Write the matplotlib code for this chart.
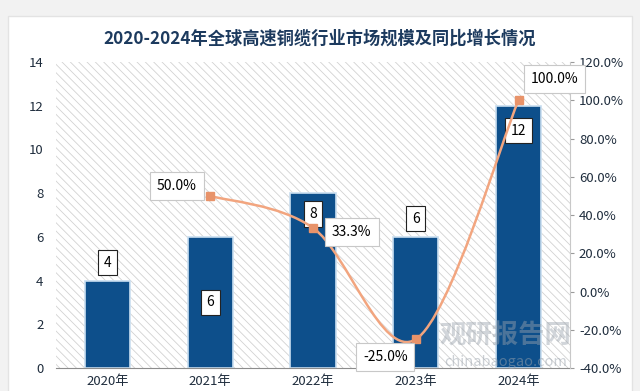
import matplotlib.pyplot as plt
import numpy as np
from matplotlib.path import Path
from matplotlib.patches import PathPatch, Rectangle

plt.rcParams['font.family'] = ['Noto Sans CJK SC', 'DejaVu Sans']
plt.rcParams['hatch.linewidth'] = 0.6

# data
years = ['2020年', '2021年', '2022年', '2023年', '2024年']
market_size = [4, 6, 8, 6, 12]
growth = [None, 0.50, 0.333, -0.25, 1.00]
growth_labels = ['', '50.0%', '33.3%', '-25.0%', '100.0%']

bar_color = '#0d4f8b'
line_color = '#f2a57f'
text_color = '#1f2d3d'


def smooth_path(xs, ys, t=0.5):
    # excel style smoothed line: catmull-rom turned into cubic bezier segments
    verts = [(xs[0], ys[0])]
    codes = [Path.MOVETO]
    n = len(xs)
    for i in range(n - 1):
        x0, y0 = (xs[i - 1], ys[i - 1]) if i > 0 else (xs[i], ys[i])
        x1, y1 = xs[i], ys[i]
        x2, y2 = xs[i + 1], ys[i + 1]
        x3, y3 = (xs[i + 2], ys[i + 2]) if i + 2 < n else (x2, y2)
        c1 = (x1 + (x2 - x0) * t / 3, y1 + (y2 - y0) * t / 3)
        c2 = (x2 - (x3 - x1) * t / 3, y2 - (y3 - y1) * t / 3)
        verts += [c1, c2, (x2, y2)]
        codes += [Path.CURVE4] * 3
    return Path(verts, codes)


fig = plt.figure(figsize=(6.4, 3.91), dpi=100)
fig.patch.set_facecolor('#f2f2f2')
fig.patches.append(Rectangle((0.012, -0.02), 0.975, 0.98, transform=fig.transFigure,
                             facecolor='white', edgecolor='#e3e3e3', lw=1, zorder=-5))

ax = fig.add_axes([0.0875, 0.0588, 0.803, 0.7826])
x = np.arange(len(years))

ax.patch.set_facecolor('white')
ax.patch.set_hatch('\\\\\\\\')
ax.patch.set_edgecolor('#d2d2d2')

bars = ax.bar(x, market_size, width=0.44, color=bar_color, edgecolor='#c9def0', linewidth=1.2, zorder=2)
ax.set_xlim(-0.5, len(years) - 0.5)
ax.set_ylim(0, 14)
ax.set_yticks(range(0, 15, 2))
ax.set_xticks(x)
ax.set_xticklabels(years)
ax.tick_params(axis='both', length=0, labelsize=9.5, colors=text_color)
ax.tick_params(axis='x', pad=5)
ax.tick_params(axis='y', pad=9)
for s in ['top', 'left', 'right']:
    ax.spines[s].set_visible(False)
ax.spines['bottom'].set_color('#8c8c8c')

# bar value labels (offset in points from the bar top)
bar_offsets = [13, -47, -15, 13, -18]
for xi, v, off in zip(x, market_size, bar_offsets):
    ax.annotate(str(v), (xi, v), xytext=(0, off), textcoords='offset points',
                ha='center', va='center', fontsize=10, color='black', zorder=5,
                bbox=dict(boxstyle='square,pad=0.4', fc='white', ec='#222222', lw=0.8))

ax2 = ax.twinx()
ax2.set_ylim(-0.4, 1.2)
ax2.set_yticks(np.arange(-0.4, 1.21, 0.2))
ax2.set_yticklabels([f'{v * 100:.1f}%' for v in np.arange(-0.4, 1.21, 0.2)])
ax2.tick_params(axis='y', length=3, labelsize=9.5, colors=text_color, direction='out')
ax2.tick_params(axis='y', color='#9a9a9a')
for s in ['top', 'left', 'bottom']:
    ax2.spines[s].set_visible(False)
ax2.spines['right'].set_color('#c8c8c8')

gx = [xi for xi, g in zip(x, growth) if g is not None]
gy = [g for g in growth if g is not None]
ax2.add_patch(PathPatch(smooth_path(gx, gy), fill=False, edgecolor=line_color, lw=1.8, zorder=3))
ax2.plot(gx, gy, linestyle='none', marker='s', markersize=5.5, color='#e8936a', zorder=4)

label_offsets = [None, (-24, 7), (28, -3), (-22, -13), (26, 15)]
for xi, g, lab, off in zip(x, growth, growth_labels, label_offsets):
    if g is None:
        continue
    ax2.annotate(lab, (xi, g), xytext=off, textcoords='offset points',
                 ha='center', va='center', fontsize=10, color='black', zorder=6,
                 bbox=dict(boxstyle='square,pad=0.5', fc='white', ec='#c8c8c8', lw=0.8))

# watermark
fig.text(0.79, 0.14, '观研报告网', fontsize=19, fontweight='bold', color='#9aa3ad', alpha=0.45,
         ha='center', va='center')
fig.text(0.79, 0.075, 'chinabaogao.com', fontsize=10.5, color='#9aa3ad', alpha=0.5,
         ha='center', va='center')

fig.text(0.5, 0.9, '2020-2024年全球高速铜缆行业市场规模及同比增长情况', fontsize=12.4,
         fontweight='bold', color='#1c3a5e', ha='center', va='center')

fig.savefig('out.png', dpi=100)
